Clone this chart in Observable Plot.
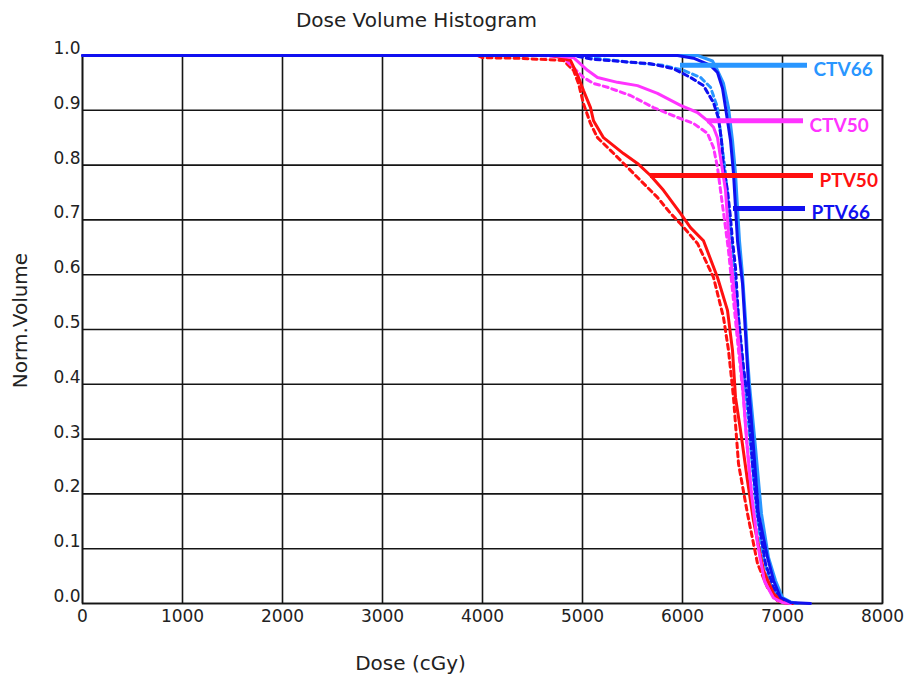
<!DOCTYPE html>
<html>
<head>
<meta charset="utf-8">
<script src="https://cdn.jsdelivr.net/npm/d3@7"></script>
<script src="https://cdn.jsdelivr.net/npm/@observablehq/plot@0.6"></script>
<style>
  html, body { margin: 0; padding: 0; background: #fff; }
  #chart { width: 910px; height: 681px; }
</style>
</head>
<body>
<div id="chart"></div>
<script>
// ---- Data ----
const structures = ["PTV50", "CTV50", "CTV66", "PTV66"];
const structureColors = ["#ff1010", "#ff33ff", "#2996ff", "#1010f0"];

const xTicks = [0, 1000, 2000, 3000, 4000, 5000, 6000, 7000, 8000];
const yTicks = [0, 0.1, 0.2, 0.3, 0.4, 0.5, 0.6, 0.7, 0.8, 0.9, 1.0];

// PTV50 (red)
const ptv50SolidDose = [0, 4700, 4880, 4960, 5010, 5080, 5110, 5210, 5410, 5550, 5680, 5810, 5980, 6080, 6210, 6350, 6450, 6500, 6530, 6580, 6650, 6710, 6810, 6910, 7000, 7100];
const ptv50SolidVol  = [1, 1, 0.991, 0.960, 0.936, 0.905, 0.881, 0.850, 0.821, 0.803, 0.781, 0.754, 0.712, 0.686, 0.662, 0.595, 0.535, 0.462, 0.376, 0.316, 0.224, 0.151, 0.060, 0.018, 0.002, 0];
const ptv50DashDose  = [0, 3950, 4000, 4350, 4810, 4910, 4960, 5010, 5080, 5150, 5280, 5450, 5580, 5750, 5880, 5980, 6150, 6310, 6410, 6460, 6510, 6560, 6650, 6750, 6850, 6950, 7050];
const ptv50DashVol   = [1, 1, 0.996, 0.995, 0.991, 0.973, 0.949, 0.912, 0.876, 0.850, 0.827, 0.796, 0.772, 0.741, 0.712, 0.693, 0.657, 0.595, 0.522, 0.462, 0.376, 0.255, 0.164, 0.073, 0.029, 0.005, 0];

// CTV50 (magenta)
const ctv50SolidDose = [0, 4700, 4910, 5050, 5150, 5350, 5550, 5750, 5980, 6150, 6250, 6310, 6350, 6380, 6430, 6460, 6500, 6550, 6600, 6640, 6690, 6750, 6820, 6910, 7000, 7080];
const ctv50SolidVol  = [1, 1, 0.996, 0.973, 0.960, 0.951, 0.945, 0.931, 0.909, 0.896, 0.881, 0.869, 0.850, 0.814, 0.754, 0.675, 0.600, 0.500, 0.400, 0.300, 0.200, 0.110, 0.040, 0.010, 0.002, 0];
const ctv50DashDose  = [0, 4600, 4810, 5010, 5110, 5250, 5480, 5710, 5950, 6110, 6250, 6310, 6350, 6380, 6420, 6460, 6510, 6560, 6610, 6650, 6700, 6780, 6860, 6950, 7050];
const ctv50DashVol   = [1, 1, 0.996, 0.960, 0.949, 0.942, 0.927, 0.905, 0.887, 0.876, 0.858, 0.832, 0.796, 0.754, 0.700, 0.644, 0.553, 0.462, 0.376, 0.280, 0.180, 0.080, 0.030, 0.005, 0];

// CTV66 (light blue)
const ctv66SolidDose = [0, 6150, 6300, 6350, 6410, 6460, 6500, 6530, 6550, 6570, 6600, 6630, 6650, 6670, 6730, 6790, 6860, 6930, 7000, 7080, 7150];
const ctv66SolidVol  = [1, 1, 0.990, 0.973, 0.949, 0.905, 0.845, 0.785, 0.723, 0.662, 0.600, 0.520, 0.450, 0.400, 0.285, 0.164, 0.084, 0.042, 0.011, 0.003, 0];
const ctv66DashDose  = [0, 4950, 5080, 5510, 5810, 6010, 6180, 6280, 6350, 6390, 6430, 6460, 6490, 6520, 6560, 6600, 6640, 6690, 6740, 6800, 6880, 6970, 7060];
const ctv66DashVol   = [1, 1, 0.996, 0.987, 0.982, 0.973, 0.960, 0.942, 0.905, 0.845, 0.785, 0.723, 0.660, 0.600, 0.520, 0.440, 0.370, 0.270, 0.170, 0.090, 0.035, 0.008, 0];

// PTV66 (blue)
const ptv66SolidDose = [0, 5950, 6110, 6280, 6350, 6400, 6430, 6480, 6510, 6530, 6550, 6600, 6630, 6660, 6710, 6760, 6850, 6910, 6980, 7080, 7280];
const ptv66SolidVol  = [1, 1, 0.995, 0.982, 0.969, 0.940, 0.905, 0.845, 0.785, 0.723, 0.662, 0.584, 0.493, 0.400, 0.285, 0.164, 0.084, 0.042, 0.011, 0.002, 0];
const ptv66DashDose  = [0, 4900, 5110, 5680, 5910, 6080, 6210, 6310, 6360, 6390, 6410, 6450, 6480, 6500, 6530, 6560, 6610, 6650, 6700, 6750, 6830, 6910, 7000, 7080];
const ptv66DashVol   = [1, 1, 0.993, 0.985, 0.976, 0.960, 0.945, 0.914, 0.885, 0.845, 0.796, 0.754, 0.704, 0.662, 0.613, 0.522, 0.431, 0.376, 0.255, 0.164, 0.073, 0.029, 0.005, 0];

// Legend call-out lines
const labelNames = ["CTV66", "CTV50", "PTV50", "PTV66"];
const labelStartDose = [5980, 6250, 5680, 6510];
const labelEndDose = [7250, 7210, 7310, 7230];
const labelVolume = [0.982, 0.881, 0.781, 0.721];

// ---- Build tables ----
const rows = [];
function addCurve(structure, plan, doses, vols) {
  doses.forEach((d, i) => rows.push({structure, plan, key: structure + "-" + plan, dose: d, volume: vols[i]}));
}
addCurve("PTV50", "solid", ptv50SolidDose, ptv50SolidVol);
addCurve("PTV50", "dash", ptv50DashDose, ptv50DashVol);
addCurve("CTV50", "solid", ctv50SolidDose, ctv50SolidVol);
addCurve("CTV50", "dash", ctv50DashDose, ctv50DashVol);
addCurve("CTV66", "solid", ctv66SolidDose, ctv66SolidVol);
addCurve("CTV66", "dash", ctv66DashDose, ctv66DashVol);
addCurve("PTV66", "solid", ptv66SolidDose, ptv66SolidVol);
addCurve("PTV66", "dash", ptv66DashDose, ptv66DashVol);

const labels = labelNames.map((n, i) => ({structure: n, start: labelStartDose[i], end: labelEndDose[i], volume: labelVolume[i]}));

const gridStyle = {stroke: "#151515", strokeOpacity: 1, strokeWidth: 1.6};

const chart = Plot.plot({
  width: 910,
  height: 681,
  marginTop: 55,
  marginBottom: 78,
  marginLeft: 82,
  marginRight: 28,
  style: {fontFamily: "DejaVu Sans", fontSize: "17px", color: "#222", background: "#fff"},
  x: {domain: [0, 8000]},
  y: {domain: [0, 1]},
  color: {domain: structures, range: structureColors},
  marks: [
    Plot.gridX(xTicks, gridStyle),
    Plot.gridY(yTicks, gridStyle),
    Plot.frame({stroke: "#151515", strokeWidth: 1.6}),
    Plot.axisX(xTicks, {tickSize: 0, tickPadding: 6, label: null, fontSize: 17, tickFormat: d => String(d)}),
    Plot.axisY(yTicks, {tickSize: 0, tickPadding: 2, dy: -7, tickFormat: d3.format(".1f"), label: null, fontSize: 17}),
    Plot.line(rows.filter(d => d.plan === "dash"), {
      x: "dose", y: "volume", z: "key", stroke: "structure",
      strokeWidth: 3, strokeDasharray: "5,4"
    }),
    Plot.line(rows.filter(d => d.plan === "solid"), {
      x: "dose", y: "volume", z: "key", stroke: "structure",
      strokeWidth: 3, strokeLinejoin: "round"
    }),
    Plot.ruleY(labels, {y: "volume", x1: "start", x2: "end", stroke: "structure", strokeWidth: 5}),
    Plot.text(labels, {
      x: "end", y: "volume", text: "structure", fill: "structure",
      textAnchor: "start", dx: 6, dy: 5,
      fontFamily: "Lato", fontWeight: "bold", fontSize: 19
    }),
    Plot.text(["Dose Volume Histogram"], {x: 3340, frameAnchor: "top", lineAnchor: "middle", dy: -35, fontSize: 20, fill: "#222"}),
    Plot.text(["Dose (cGy)"], {x: 3280, frameAnchor: "bottom", lineAnchor: "middle", dy: 60, fontSize: 20, fill: "#222"}),
    Plot.text(["Norm.Volume"], {frameAnchor: "left", textAnchor: "middle", lineAnchor: "middle", rotate: -90, dx: -62, dy: -9, fontSize: 20, fill: "#222"})
  ]
});
document.getElementById("chart").appendChild(chart);
</script>
</body>
</html>
